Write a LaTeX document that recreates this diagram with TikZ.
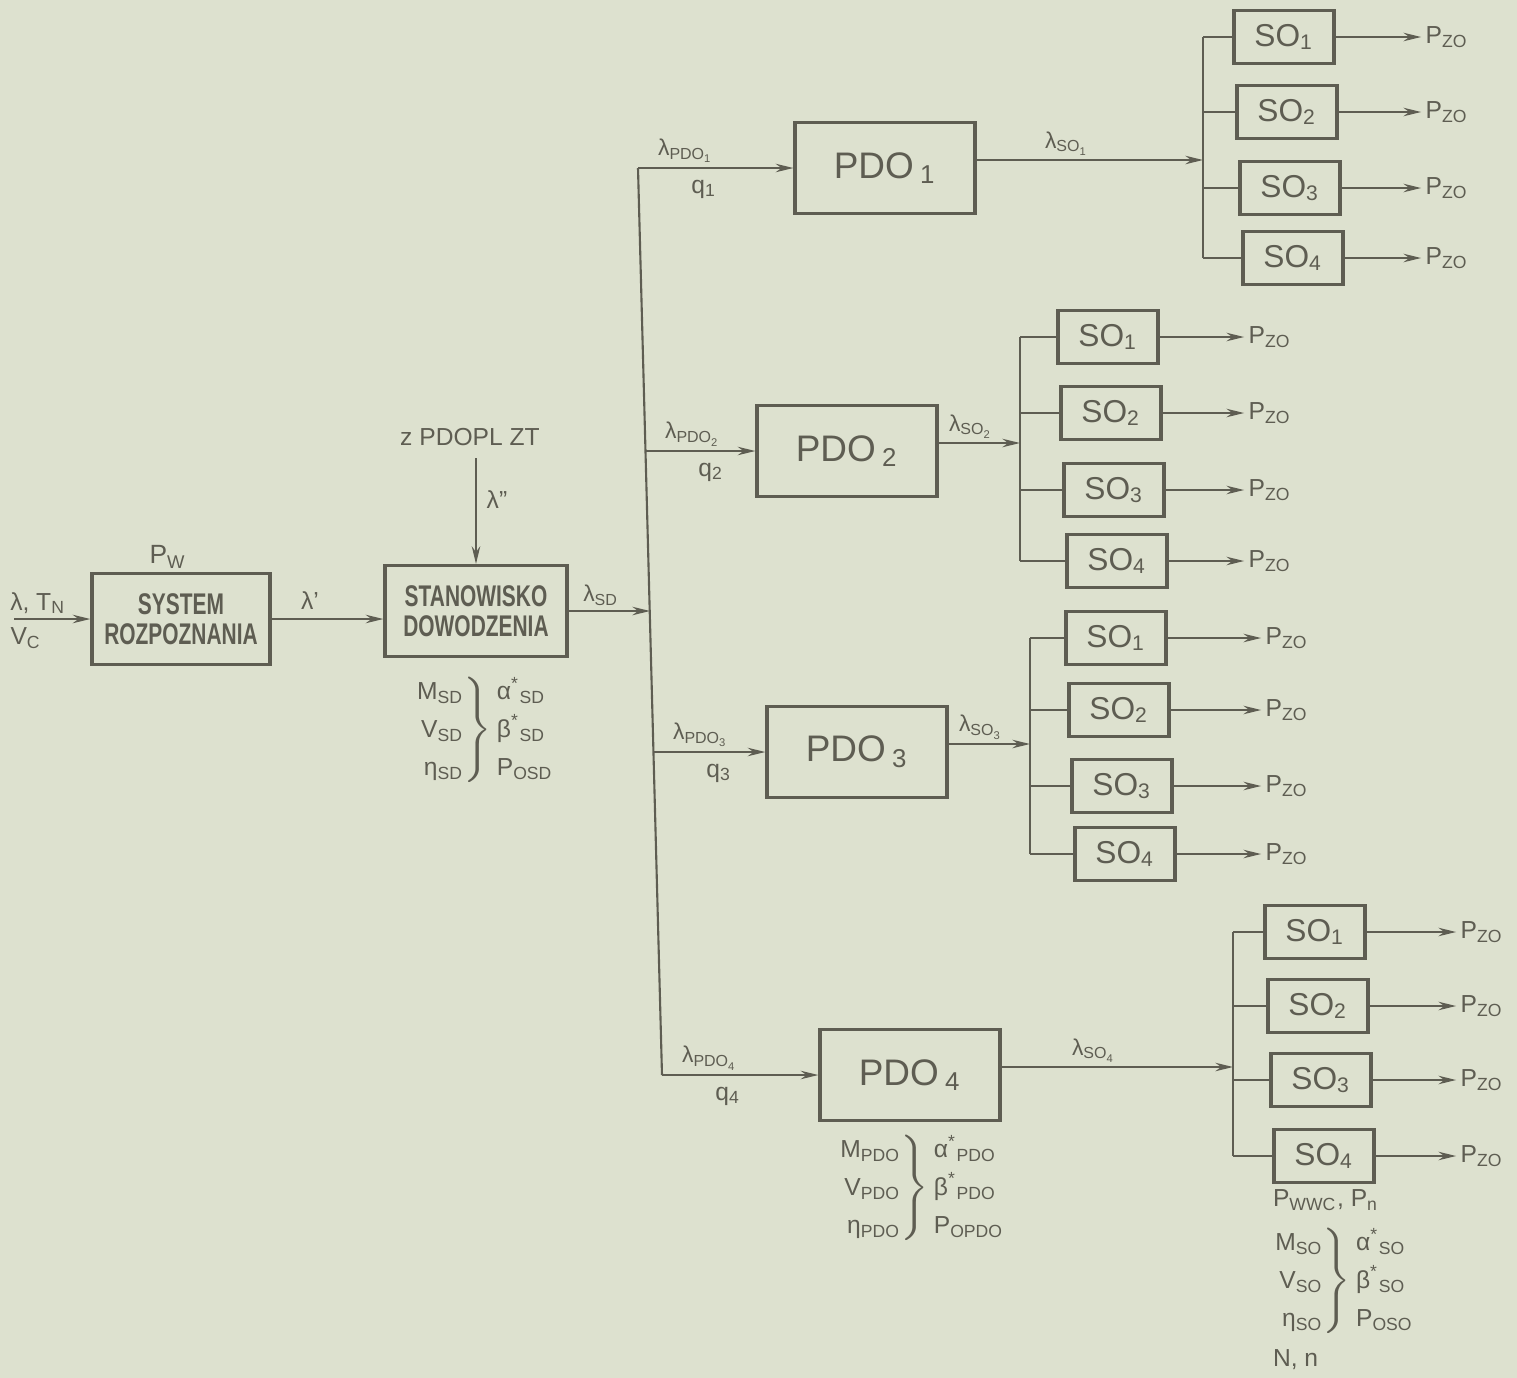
\documentclass[tikz,border=0pt]{standalone}
\usepackage{fontspec}
\setmainfont{Liberation Sans}
\newfontfamily\waski[FakeStretch=0.7]{Liberation Sans}
\usepackage{xcolor}
\usetikzlibrary{positioning, arrows.meta, calc}
\definecolor{papier}{HTML}{DDE1CF}
\definecolor{olowek}{HTML}{5E5D52}
\renewcommand{\arraystretch}{1.2}
\newcommand{\klamra}[6]{$\left.\begin{tabular}{@{}r@{}}#1\\#2\\#3\end{tabular}\right\}\begin{tabular}{@{}l@{}}#4\\#5\\#6\end{tabular}$}

\begin{document}
\begin{tikzpicture}[x=0.01cm, y=-0.01cm, line width=0.6pt, color=olowek,
    blok/.style={draw, line width=0.9pt, minimum width=1.8cm, minimum height=0.91cm, inner sep=0pt},
    opis/.style={font=\waski\bfseries\fontsize{8.5}{8.5}\selectfont, align=center},
    pdo/.style={blok, font=\fontsize{10.5}{12}\selectfont},
    sobox/.style={draw, line width=0.9pt, minimum width=1cm, minimum height=0.53cm, inner sep=0pt, font=\fontsize{9}{10}\selectfont},
    etykieta/.style={font=\fontsize{6.5}{8}\selectfont, inner sep=1pt},
    parametry/.style={font=\fontsize{7}{9}\selectfont, inner sep=0pt},
    strzalka/.style={-{Stealth[length=5pt,width=2.4pt]}}]

  \fill[papier] (0,0) rectangle (1517,1378);
  \useasboundingbox (0,0) rectangle (1517,1378);

  % wejscie i system rozpoznania
  \node[blok, minimum width=1.78cm, opis] (sys) at (181,619) {SYSTEM\\ROZPOZNANIA};
  \node[etykieta, font=\fontsize{7.5}{9}\selectfont] (pw) at (168,557) {P\textsubscript{W}};
  \node[etykieta, font=\fontsize{7}{9}\selectfont] (we) at (38,603) {λ, T\textsubscript{N}};
  \node[etykieta, font=\fontsize{7}{9}\selectfont] (vc) at (26,638) {V\textsubscript{C}};
  \coordinate (start) at (14,619);
  \draw[strzalka] (start) -- (sys.west);

  % stanowisko dowodzenia
  \node[blok, minimum width=1.82cm, opis] (sd) at (476,611) {STANOWISKO\\DOWODZENIA};
  \draw[strzalka] (sys.east) -- (sys.east -| sd.west);
  \node[etykieta, font=\fontsize{7}{9}\selectfont] at (310,601) {λ'};
  \node[etykieta, font=\fontsize{7}{9}\selectfont] (zpd) at (470,437) {z PDOPL ZT};
  \coordinate (gora) at (476,458);
  \draw[strzalka] (gora) -- (gora |- sd.north);
  \node[etykieta, font=\fontsize{7}{9}\selectfont] at (497,500) {λ"};
  \node[parametry] (psd) at (483,730) {\klamra{M\textsubscript{SD}}{V\textsubscript{SD}}{η\textsubscript{SD}}{α\textsuperscript{*}\textsubscript{SD}}{β\textsuperscript{*}\textsubscript{SD}}{P\textsubscript{OSD}}};

  % pien rozdzialu
  \coordinate (t1) at (638,168);
  \coordinate (t2) at (645,451);
  \coordinate (tsd) at (650,611);
  \coordinate (t3) at (653,752);
  \coordinate (t4) at (662,1075);
  \draw (t1) -- (t4);
  \draw[strzalka] (sd.east) -- (sd.east -| tsd);
  \node[etykieta] at (601,595) {λ\textsubscript{SD}};

  % punkty dowodzenia ogniem
  \foreach \i/\x/\y/\t in {1/885/168/t1, 2/847/451/t2, 3/857/752/t3, 4/910/1075/t4} {
    \node[pdo] (pdo\i) at (\x,\y) {PDO\,\textsubscript{\i}};
    \draw[strzalka] (\t) -- (pdo\i.west);
    \node[etykieta] at ($(\t)+(48,-17)$) {λ\textsubscript{PDO\textsubscript{\i}}};
    \node[etykieta, font=\fontsize{7}{9}\selectfont] at ($(\t)+(66,21)$) {q\textsubscript{\i}};
  }

  % stanowiska ogniowe
  \foreach \g/\bx/\cx/\px/\ya/\yb/\yc/\yd in {1/1203/1284/1447/37/112/188/258,
      2/1020/1108/1270/337/413/490/561, 3/1030/1116/1287/638/710/786/854,
      4/1233/1315/1482/932/1006/1080/1156} {
    \coordinate (bus\g) at (\bx,0);
    \foreach \k/\y in {1/\ya, 2/\yb, 3/\yc, 4/\yd} {
      \node[sobox] (so\g\k) at ({\cx+3*(\k-1)},\y) {SO\textsubscript{\k}};
      \node[etykieta, font=\fontsize{7}{9}\selectfont] (pz\g\k) at (\px,\y) {P\textsubscript{ZO}};
      \draw[strzalka] (so\g\k.east) -- (pz\g\k.west);
      \draw (bus\g |- so\g\k.west) -- (so\g\k.west);
    }
    \draw (bus\g |- so\g1.west) -- (bus\g |- so\g4.west);
    \coordinate (o\g) at ($(pdo\g.east)+(0,-8)$);
    \draw[strzalka] (o\g) -- node[etykieta, above, pos=0.4] {λ\textsubscript{SO\textsubscript{\g}}} (o\g -| bus\g);
  }

  % parametry
  \node[parametry] (ppdo) at (920,1188) {\klamra{M\textsubscript{PDO}}{V\textsubscript{PDO}}{η\textsubscript{PDO}}{α\textsuperscript{*}\textsubscript{PDO}}{β\textsuperscript{*}\textsubscript{PDO}}{P\textsubscript{OPDO}}};
  \node[parametry, anchor=west] (pwwc) at (1272,1200) {P\textsubscript{WWC}, P\textsubscript{n}};
  \node[parametry, anchor=west] (pso) at (1270,1281) {\klamra{M\textsubscript{SO}}{V\textsubscript{SO}}{η\textsubscript{SO}}{α\textsuperscript{*}\textsubscript{SO}}{β\textsuperscript{*}\textsubscript{SO}}{P\textsubscript{OSO}}};
  \node[parametry, anchor=west] (nn) at (1272,1360) {N, n};
\end{tikzpicture}
\end{document}
